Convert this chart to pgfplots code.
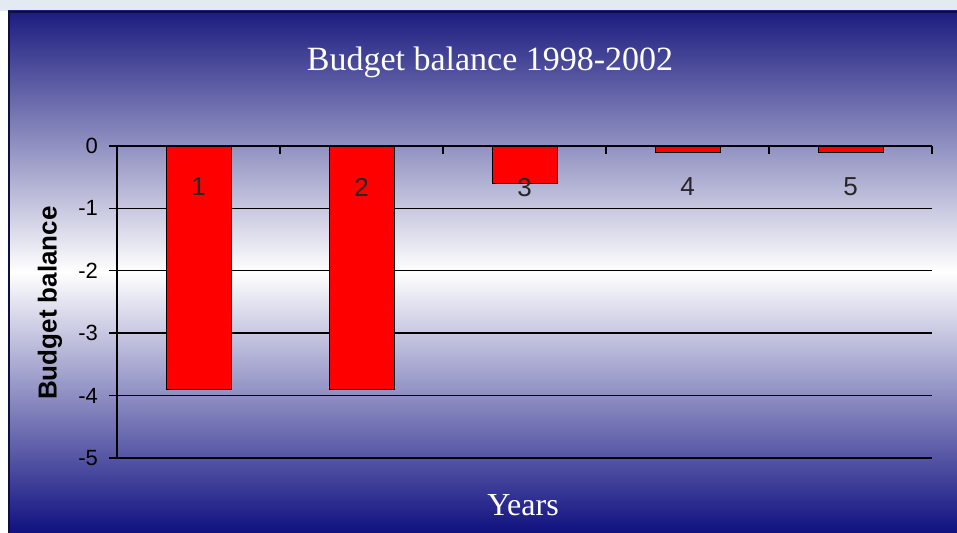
\documentclass[border=0pt]{standalone}
\usepackage{pgfplots}
\pgfplotsset{compat=1.18}
\usepackage{fontspec}
\setmainfont{Liberation Serif}
\setsansfont{Liberation Sans}
\definecolor{navytop}{RGB}{28,28,128}
\definecolor{navybot}{RGB}{16,16,128}
\definecolor{strip}{RGB}{227,234,242}
\pgfplotsset{common/.style={at={(58.5pt,37.5pt)}, anchor=south west, scale only axis,
  width=407.5pt, height=156pt,
  xmin=0.5, xmax=5.5, ymin=-5, ymax=0,
  axis x line=top, axis y line=left,
  tick align=inside, major tick length=4pt,
  xtick={0.5,1.5,...,5.5}, x tick label as interval,
  /pgf/number format/assume math mode=true}}
\begin{document}
\begin{tikzpicture}[x=1pt,y=1pt]
\useasboundingbox (0,0) rectangle (478.5,266.5);
\fill[white] (0,0) rectangle (478.5,266.5);
\fill[strip] (0,261) rectangle (478.5,266.5);
\shade[top color=navytop, bottom color=navybot, middle color=white] (4,0) rectangle (478.5,261);
\draw[navytop!50!black, line width=1pt] (4.5,0) -- (4.5,260.5) -- (478.5,260.5);
\begin{axis}[common,
  axis line style={-, black, line width=0.7pt},
  xticklabels={},
  ytick={-5,-4,-3,-2,-1,0},
  ymajorgrids, grid style={black, line width=0.7pt},
  tick style={black, line width=0.7pt},
  ytick style={xshift=-4pt},
  xtick style={yshift=-4pt},
  yticklabel style={font=\sffamily\fontsize{11}{13}\selectfont, xshift=-6pt},
  ybar, bar width=32.5pt, bar shift=0pt,
]
\addplot[fill=red, draw=black, line width=0.4pt] coordinates {(1,-3.9) (2,-3.9) (3,-0.6) (4,-0.1) (5,-0.1)};
\end{axis}
\begin{axis}[common,
  axis line style={draw=none}, ytick=\empty, major tick length=0pt,
  xticklabels={1,2,3,4,5},
  xticklabel style={font=\sffamily\fontsize{13}{15}\selectfont, text=black!85, anchor=north, yshift=-12.5pt},
]
\end{axis}
\node[white, font=\fontsize{17}{20}\selectfont] at (245,235.5) {Budget balance 1998-2002};
\node[rotate=90, font=\sffamily\bfseries\fontsize{13}{15}\selectfont] at (25,115) {Budget balance};
\node[white, font=\fontsize{16}{19}\selectfont] at (261.5,14) {Years};
\end{tikzpicture}
\end{document}
